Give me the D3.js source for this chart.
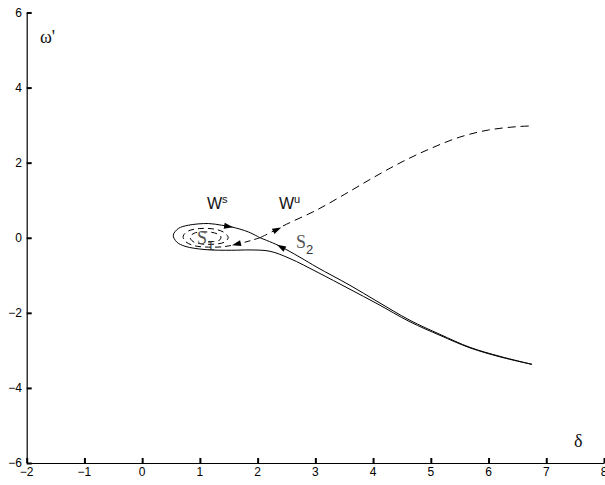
<!DOCTYPE html>
<html>
<head>
<meta charset="utf-8">
<script src="https://cdn.jsdelivr.net/npm/d3@7"></script>
<style>
  html, body { margin: 0; padding: 0; background: #fff; }
  svg { display: block; }
</style>
</head>
<body>
<svg id="chart" width="605" height="485"></svg>
<script>
// ---- data ----
const xTicks = [-2, -1, 0, 1, 2, 3, 4, 5, 6, 7, 8];
const yTicks = [-6, -4, -2, 0, 2, 4, 6];

// stable manifold, branch from lower right into the saddle (upper line)
const wsRight = [
  [6.753, -3.373], [6.199, -3.16], [5.679, -2.92], [5.159, -2.573], [4.64, -2.2],
  [4.068, -1.693], [3.60, -1.267], [3.029, -0.787], [2.734, -0.52], [2.353, -0.2], [2.04, 0.0]
];
// stable manifold, branch from lower right, around the loop, into the saddle
const wsLeft = [
  [6.753, -3.373], [6.199, -3.173], [5.679, -2.933], [5.159, -2.6], [4.64, -2.24],
  [4.068, -1.755], [3.60, -1.373], [3.029, -0.912], [2.561, -0.555], [2.214, -0.36],
  [1.868, -0.325], [1.551, -0.333], [1.089, -0.315], [0.742, -0.227], [0.598, -0.112],
  [0.539, 0.067], [0.626, 0.245], [0.799, 0.333], [1.146, 0.379], [1.378, 0.333],
  [1.551, 0.288], [1.839, 0.155], [2.04, 0.0]
];
// unstable manifold, right branch (dashed)
const wuRight = [
  [2.04, 0.0], [2.25, 0.16], [2.5, 0.36], [3.0, 0.72], [3.5, 1.15], [4.0, 1.6],
  [4.5, 2.02], [5.0, 2.38], [5.5, 2.68], [6.0, 2.87], [6.5, 2.96], [6.78, 2.98]
];
// unstable manifold, left branch spiralling into S1 (dashed)
const wuLeft = [
  [2.04, 0.0], [1.8, -0.11], [1.556, -0.2], [1.4, -0.24], [1.15, -0.25], [0.9, -0.21],
  [0.75, -0.1], [0.71, 0.04], [0.8, 0.18], [1.0, 0.245], [1.25, 0.23], [1.42, 0.14],
  [1.49, 0.0], [1.42, -0.12], [1.25, -0.17], [1.05, -0.17], [0.88, -0.1], [0.83, 0.02],
  [0.9, 0.12], [1.07, 0.155], [1.25, 0.13], [1.36, 0.04], [1.35, -0.05], [1.24, -0.1], [1.12, -0.1]
];
// arrows: [from, tip]
const arrows = [
  [[1.378, 0.333], [1.575, 0.28]],
  [[2.734, -0.52], [2.335, -0.187]],
  [[2.04, 0.0], [2.41, 0.275]],
  [[1.8, -0.11], [1.556, -0.2]]
];

// ---- layout ----
const svg = d3.select("#chart");
const x = d3.scaleLinear().domain([-2, 8]).range([26.7, 604]);
const y = d3.scaleLinear().domain([-6, 6]).range([463, 12.5]);

const fmt = d3.format("");
// axes (ticks inward)
const gx = svg.append("g").attr("transform", `translate(0,${y(-6)})`)
  .call(d3.axisTop(x).tickValues(xTicks).tickSize(5).tickSizeOuter(0).tickFormat(fmt));
gx.selectAll("text").remove();
const gy = svg.append("g").attr("transform", `translate(${x(-2)},0)`)
  .call(d3.axisRight(y).tickValues(yTicks).tickSize(5).tickSizeOuter(0).tickFormat(fmt));
gy.selectAll("text").remove();
svg.selectAll(".domain").attr("stroke", "#000").attr("stroke-width", 1.2);
svg.selectAll(".tick line").attr("stroke", "#000").attr("stroke-width", 2);

// tick labels
svg.append("g").selectAll("text").data(xTicks).join("text")
  .attr("x", d => x(d)).attr("y", 476)
  .attr("text-anchor", "middle")
  .attr("font-family", "Liberation Sans, Arial, sans-serif").attr("font-size", 12)
  .text(d => d < 0 ? "\u2212" + Math.abs(d) : d);
svg.append("g").selectAll("text").data(yTicks).join("text")
  .attr("x", 22).attr("y", d => y(d) + 4)
  .attr("text-anchor", "end")
  .attr("font-family", "Liberation Sans, Arial, sans-serif").attr("font-size", 12)
  .text(d => d < 0 ? "\u2212" + Math.abs(d) : d);

// curves
const line = d3.line().x(d => x(d[0])).y(d => y(d[1])).curve(d3.curveCatmullRom.alpha(0.5));
svg.append("path").datum(wsRight).attr("d", line)
  .attr("fill", "none").attr("stroke", "#000").attr("stroke-width", 1);
svg.append("path").datum(wsLeft).attr("d", line)
  .attr("fill", "none").attr("stroke", "#000").attr("stroke-width", 1);
svg.append("path").datum(wuRight).attr("d", line)
  .attr("fill", "none").attr("stroke", "#000").attr("stroke-width", 1)
  .attr("stroke-dasharray", "8,5");
svg.append("path").datum(wuLeft).attr("d", line)
  .attr("fill", "none").attr("stroke", "#000").attr("stroke-width", 1)
  .attr("stroke-dasharray", "6,4");

// arrowheads
svg.append("g").selectAll("path").data(arrows).join("path")
  .attr("d", d => {
    const x0 = x(d[0][0]), y0 = y(d[0][1]), x1 = x(d[1][0]), y1 = y(d[1][1]);
    const a = Math.atan2(y1 - y0, x1 - x0);
    const L = 9, W = 3;
    const bx = x1 - L * Math.cos(a), by = y1 - L * Math.sin(a);
    const px = -Math.sin(a) * W, py = Math.cos(a) * W;
    return `M${x1},${y1}L${bx + px},${by + py}L${bx - px},${by - py}Z`;
  })
  .attr("fill", "#000");

// labels
const sans = "Liberation Sans, Arial, sans-serif";
const serif = "Liberation Serif, Times New Roman, serif";
function supLabel(xp, yp, main, sup) {
  const t = svg.append("text").attr("x", xp).attr("y", yp)
    .attr("font-family", sans).attr("font-size", 16).attr("fill", "#111");
  t.append("tspan").text(main);
  t.append("tspan").attr("dy", -6).attr("font-size", 11).text(sup);
}
supLabel(207, 209, "W", "s");
supLabel(279, 209, "W", "u");

function subLabel(xp, yp, main, sub) {
  const t = svg.append("text").attr("x", xp).attr("y", yp);
  t.append("tspan").attr("font-family", serif).attr("font-size", 18).attr("fill", "#555").text(main);
  t.append("tspan").attr("dy", 6).attr("font-family", sans).attr("font-size", 13).attr("fill", "#333").text(sub);
}
subLabel(197, 244, "S", "1");
subLabel(296, 248, "S", "2");

svg.append("text").attr("x", 40).attr("y", 42.5)
  .attr("font-family", serif).attr("font-size", 18).attr("fill", "#111").text("\u03C9'");
svg.append("text").attr("x", 574).attr("y", 446.5)
  .attr("font-family", serif).attr("font-size", 18).attr("fill", "#111").text("\u03B4");
</script>
</body>
</html>
